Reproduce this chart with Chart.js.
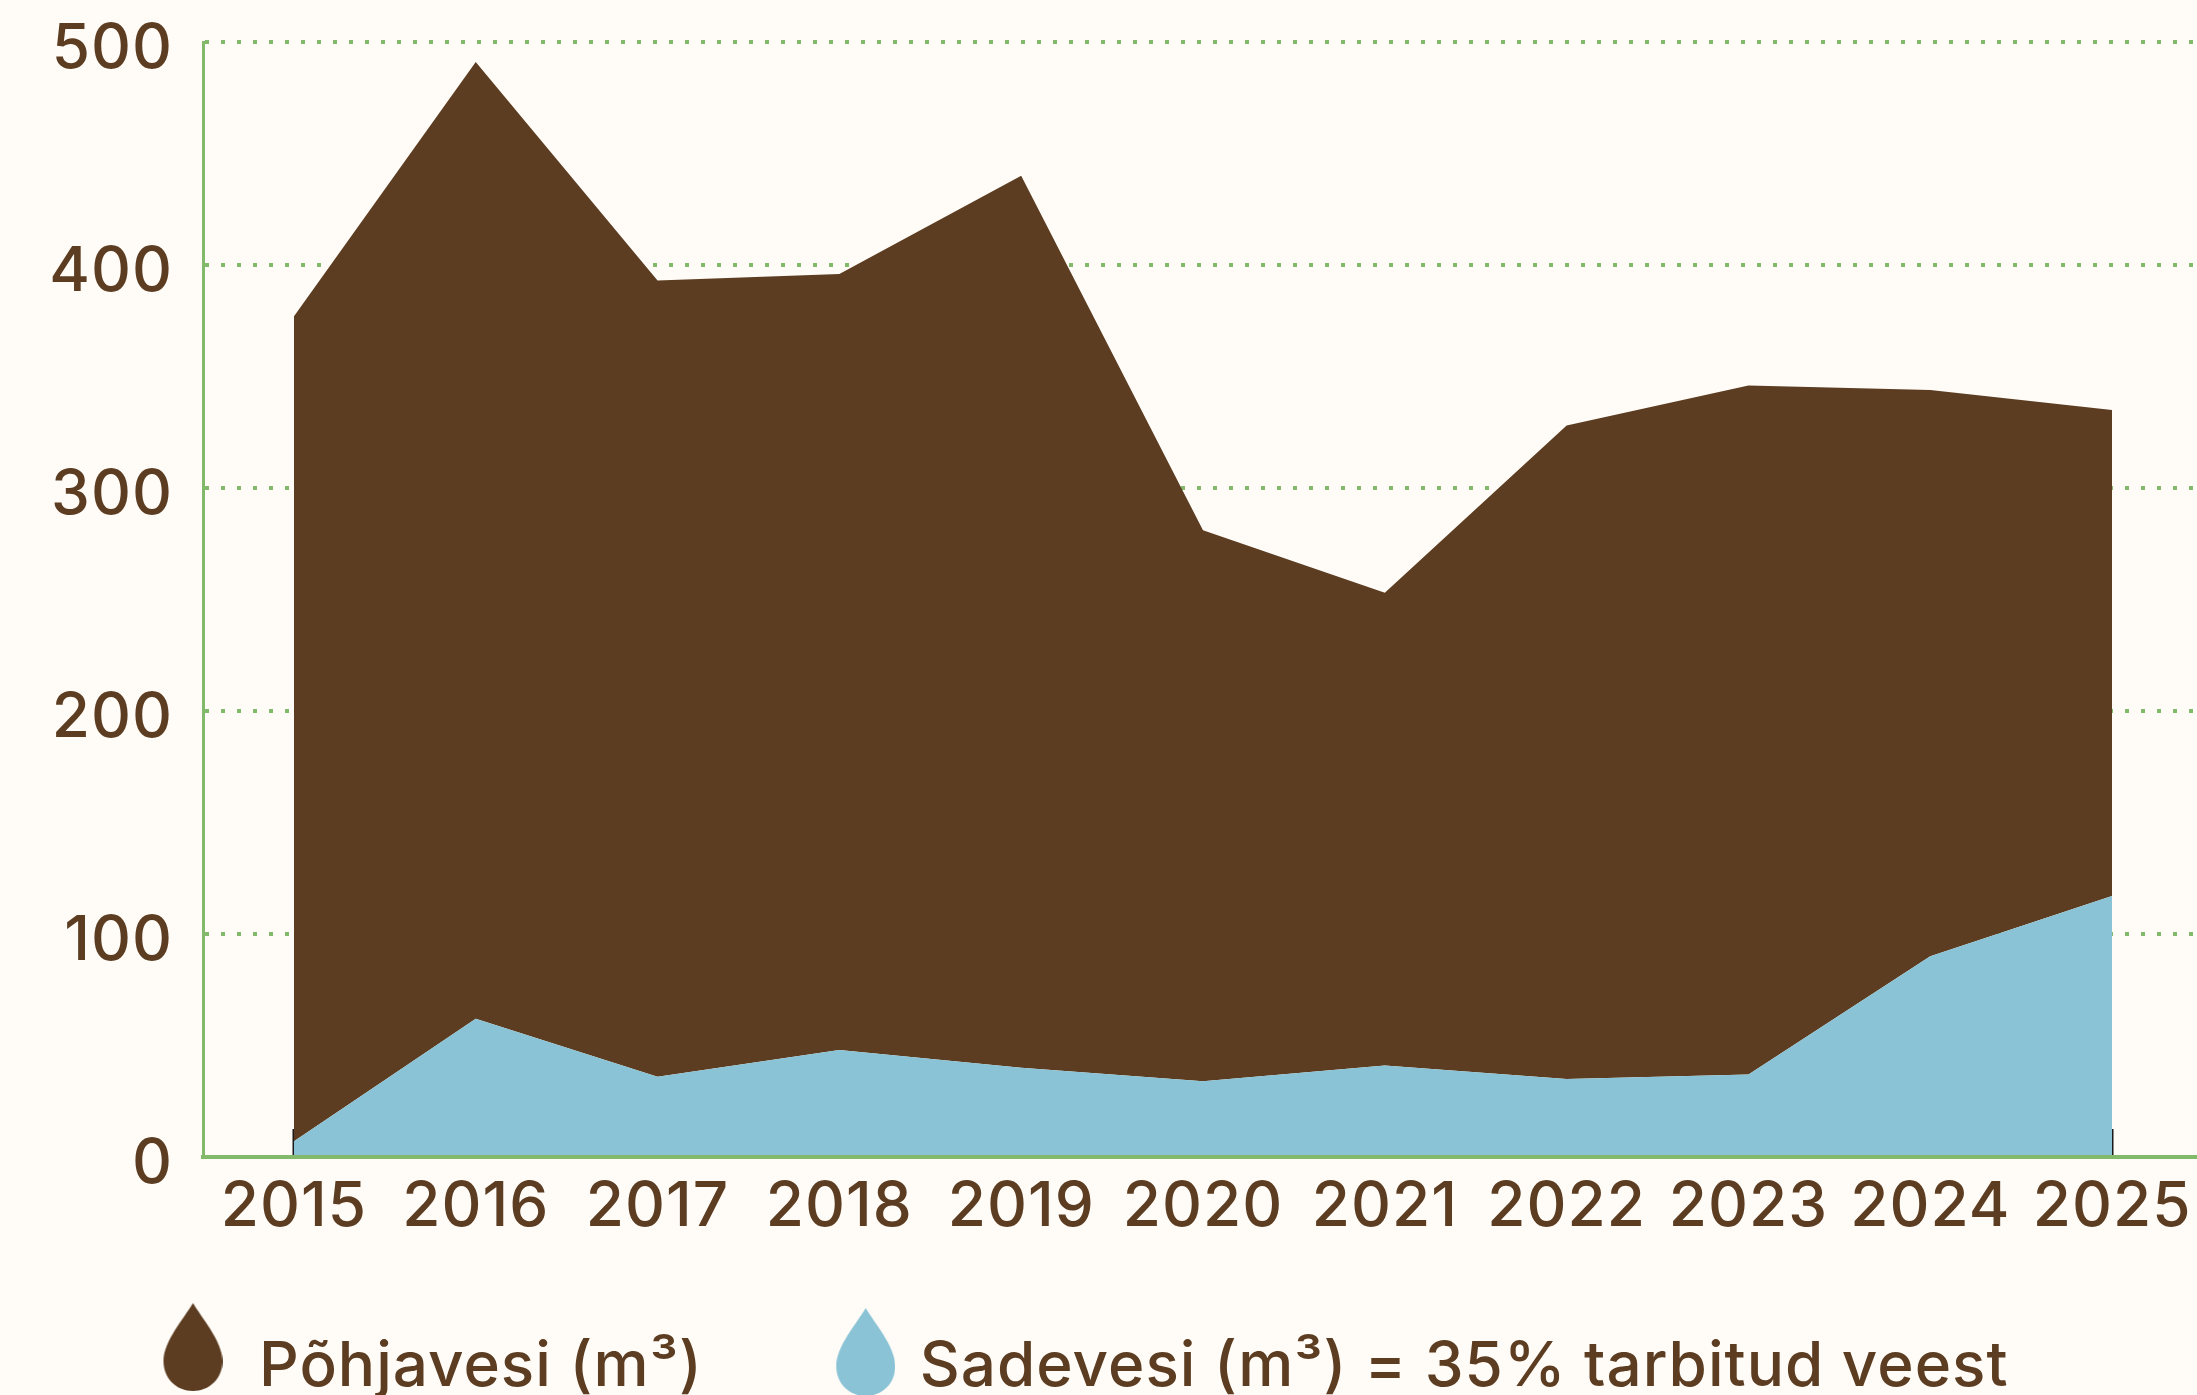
<!DOCTYPE html>
<html>
<head>
<meta charset="utf-8">
<script src="https://cdn.jsdelivr.net/npm/chart.js@4/dist/chart.umd.min.js"></script>
<style>
html, body { margin: 0; padding: 0; background: #FFFCF8; overflow: hidden; width: 2197px; height: 1395px; }
canvas { display: block; }
</style>
</head>
<body>
<canvas id="waterChart" width="2203" height="1408"></canvas>
<script>
const years = ['2015','2016','2017','2018','2019','2020','2021','2022','2023','2024','2025'];
// sadevesi is the bottom layer, pohjavesi is stacked on top of it
const sadevesi = [7, 62, 36, 48, 40, 34, 41, 35, 37, 90, 117];
const pohjavesi = [370, 429, 357, 348, 400, 247, 212, 293, 309, 254, 218];

const BROWN = '#5C3D21';
const BLUE = '#8AC3D5';
const GREEN = '#83B96A';
const LABEL_FONT = { family: 'Inter', size: 62, weight: '500' };

// legend marker, extra canvas space moves the drop relative to the text
function dropMarker(color, padLeft, padBottom) {
    var c = document.createElement('canvas');
    c.width = 59 + padLeft;
    c.height = 88 + padBottom;
    var g = c.getContext('2d');
    var cx = padLeft + 29.5;
    g.fillStyle = color;
    g.beginPath();
    g.moveTo(cx, 0);
    g.bezierCurveTo(cx + 8, 14, cx + 29.5, 38, cx + 29.5, 58);
    g.bezierCurveTo(cx + 29.5, 76, cx + 16, 88, cx, 88);
    g.bezierCurveTo(cx - 16, 88, cx - 29.5, 76, cx - 29.5, 58);
    g.bezierCurveTo(cx - 29.5, 38, cx - 8, 14, cx, 0);
    g.fill();
    return c;
}

new Chart(document.getElementById('waterChart').getContext('2d'), {
    type: 'line',
    data: {
        labels: years,
        datasets: [
            {
                label: 'Sadevesi (m³) = 35% tarbitud veest',
                data: sadevesi,
                backgroundColor: BLUE,
                borderWidth: 0,
                pointRadius: 0,
                tension: 0,
                fill: 'origin',
                pointStyle: dropMarker(BLUE, 39, 30)
            },
            {
                label: 'Põhjavesi (m³)',
                data: pohjavesi,
                backgroundColor: BROWN,
                borderWidth: 0,
                pointRadius: 0,
                tension: 0,
                fill: '-1',
                pointStyle: dropMarker(BROWN, 15, 40)
            }
        ]
    },
    options: {
        responsive: false,
        animation: false,
        layout: { padding: { top: 42, left: 42, right: 0, bottom: 0 } },
        plugins: {
            tooltip: { enabled: false },
            legend: {
                position: 'bottom',
                align: 'start',
                labels: {
                    usePointStyle: true,
                    pointStyleWidth: 85,
                    padding: 101,
                    color: BROWN,
                    font: LABEL_FONT,
                    sort: function(a, b) { return b.datasetIndex - a.datasetIndex; }
                }
            }
        },
        scales: {
            x: {
                offset: true,
                afterFit: function(scale) {
                    scale.height = 78;
                    scale.paddingLeft = 0;
                    scale.paddingRight = 0;
                },
                grid: {
                    drawOnChartArea: false,
                    drawTicks: true,
                    tickLength: -28,
                    tickWidth: 2,
                    tickColor: function(ctx) {
                        return (ctx.index === 0 || ctx.index === years.length - 1) ? '#1A1A1A' : 'rgba(0,0,0,0)';
                    }
                },
                border: { color: GREEN, width: 4, z: 1 },
                ticks: {
                    color: BROWN,
                    font: LABEL_FONT,
                    padding: 41,
                    maxRotation: 0,
                    autoSkip: false
                }
            },
            y: {
                stacked: true,
                min: 0,
                max: 500,
                afterFit: function(scale) {
                    scale.width = 161;
                    scale.paddingTop = 0;
                    scale.paddingBottom = 0;
                },
                grid: {
                    color: function(ctx) {
                        return ctx.tick && ctx.tick.value === 0 ? 'rgba(0,0,0,0)' : GREEN;
                    },
                    lineWidth: 4,
                    drawTicks: false
                },
                border: { color: GREEN, width: 3, dash: [4, 12], z: 1 },
                ticks: {
                    stepSize: 100,
                    color: BROWN,
                    font: LABEL_FONT,
                    padding: 30,
                    labelOffset: 7
                }
            }
        }
    },
    plugins: [{
        // reference type runs wider than Inter
        id: 'labelSpacing',
        beforeUpdate: function(chart) { chart.ctx.letterSpacing = '1px'; },
        beforeDraw: function(chart) { chart.ctx.letterSpacing = '1px'; }
    }]
});
</script>
</body>
</html>
